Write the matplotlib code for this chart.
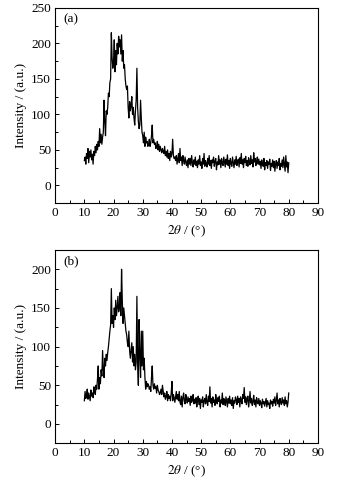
import numpy as np
import matplotlib
matplotlib.use("Agg")
import matplotlib.pyplot as plt
from matplotlib.ticker import MultipleLocator

plt.rcParams['font.family'] = ['Liberation Serif', 'DejaVu Serif']
plt.rcParams['mathtext.fontset'] = 'stix'

# 2theta grid, 0.25 deg step
two_theta = np.arange(10.0, 80.001, 0.25)

# sample (a) intensity
intensity_a = [
    35, 40, 30, 45, 38, 52, 32, 48,
    40, 50, 36, 44, 30, 48, 42, 55,
    46, 58, 50, 62, 55, 80, 60, 72,
    58, 68, 75, 120, 90, 70, 105, 100,
    110, 130, 125, 145, 150, 215, 180, 165,
    175, 205, 160, 190, 170, 200, 185, 210,
    195, 205, 185, 212, 175, 190, 165, 170,
    150, 140, 135, 140, 110, 95, 118, 105,
    112, 125, 100, 110, 95, 85, 105, 120,
    165, 110, 90, 80, 85, 120, 95, 75,
    70, 60, 75, 55, 68, 60, 62, 55,
    58, 65, 55, 60, 70, 85, 60, 65,
    58, 60, 52, 55, 62, 50, 58, 48,
    55, 50, 46, 52, 48, 45, 55, 42,
    48, 40, 50, 38, 45, 35, 48, 40,
    45, 65, 42, 38, 40, 35, 42, 30,
    38, 45, 32, 52, 35, 40, 28, 42,
    35, 30, 40, 32, 28, 36, 25, 38,
    30, 38, 28, 42, 32, 26, 36, 30,
    40, 28, 34, 25, 36, 30, 42, 28,
    33, 24, 38, 30, 45, 27, 35, 31,
    26, 38, 30, 42, 28, 35, 24, 36,
    32, 40, 27, 34, 38, 22, 33, 29,
    42, 30, 36, 25, 38, 31, 28, 40,
    33, 26, 37, 30, 43, 28, 35, 24,
    38, 31, 27, 40, 33, 25, 36, 30,
    41, 28, 34, 37, 26, 39, 31, 45,
    30, 36, 25, 38, 32, 41, 28, 35,
    27, 39, 33, 29, 42, 31, 36, 26,
    46, 33, 38, 28, 35, 40, 30, 37,
    29, 34, 24, 36, 30, 27, 38, 22,
    32, 28, 35, 24, 33, 30, 37, 21,
    31, 27, 36, 25, 34, 20, 30, 35,
    24, 33, 28, 38, 22, 31, 27, 36,
    25, 40, 30, 20, 42, 26, 33, 18,
    32,
]

# sample (b) intensity
intensity_b = [
    30, 42, 33, 38, 45, 32, 40, 35,
    30, 44, 36, 40, 34, 48, 42, 38,
    50, 45, 58, 75, 45, 60, 52, 70,
    62, 95, 70, 60, 85, 75, 90, 82,
    92, 100, 110, 120, 128, 175, 130, 140,
    125, 150, 135, 160, 140, 150, 165, 145,
    150, 170, 140, 200, 160, 130, 150, 140,
    130, 120, 115, 105, 100, 120, 95, 85,
    95, 105, 80, 100, 75, 90, 70, 80,
    165, 80, 50, 135, 90, 60, 120, 75,
    120, 70, 85, 60, 45, 55, 48, 52,
    50, 45, 48, 42, 60, 75, 50, 45,
    52, 46, 48, 40, 50, 44, 42, 38,
    40, 45, 38, 50, 42, 35, 40, 32,
    35, 42, 30, 38, 33, 36, 30, 40,
    55, 30, 38, 34, 28, 35, 42, 32,
    38, 30, 42, 28, 25, 36, 22, 34,
    40, 30, 26, 38, 32, 27, 35, 29,
    33, 24, 36, 28, 31, 38, 26, 32,
    27, 34, 22, 30, 36, 25, 33, 20,
    31, 28, 35, 22, 30, 33, 26, 38,
    28, 24, 36, 29, 48, 27, 33, 22,
    35, 28, 31, 24, 38, 30, 26, 34,
    29, 36, 22, 31, 27, 40, 25, 33,
    30, 24, 35, 28, 22, 33, 27, 36,
    26, 31, 24, 34, 20, 30, 27, 35,
    31, 25, 36, 28, 33, 22, 35, 30,
    26, 38, 33, 47, 28, 35, 25, 32,
    36, 22, 30, 42, 27, 33, 24, 29,
    37, 25, 31, 22, 34, 28, 26, 33,
    24, 30, 27, 21, 32, 26, 29, 23,
    28, 33, 22, 30, 25, 27, 20, 31,
    26, 29, 23, 32, 27, 35, 24, 30,
    40, 26, 31, 22, 33, 28, 25, 34,
    27, 31, 24, 35, 26, 30, 22, 28,
    40,
]

panels = [
    ("(a)", intensity_a, 250, [0.158, 0.587, 0.753, 0.397]),
    ("(b)", intensity_b, 225, [0.158, 0.099, 0.753, 0.393]),
]

fig = plt.figure(figsize=(3.49, 4.92), dpi=100)

for tag, y, ytop, rect in panels:
    ax = fig.add_axes(rect)
    ax.plot(two_theta, y, color='black', lw=0.9)
    ax.set_xlim(0, 90)
    ax.set_ylim(-25, ytop)
    ax.xaxis.set_major_locator(MultipleLocator(10))
    ax.xaxis.set_minor_locator(MultipleLocator(5))
    ax.yaxis.set_major_locator(MultipleLocator(50))
    ax.yaxis.set_minor_locator(MultipleLocator(25))
    ax.tick_params(which='both', direction='in', labelsize=9.5, pad=3)
    ax.tick_params(which='major', length=3, width=0.7)
    ax.tick_params(which='minor', length=2, width=0.7)
    for s in ax.spines.values():
        s.set_linewidth(0.8)
    ax.text(0.03, 0.97, tag, transform=ax.transAxes, ha='left', va='top', fontsize=9.5)
    ax.set_ylabel('Intensity / (a.u.)', fontsize=9.5, labelpad=3)
    ax.set_xlabel(r'$2\theta$ / (°)', fontsize=9.5, labelpad=3)

fig.savefig('out.png', dpi=100)
